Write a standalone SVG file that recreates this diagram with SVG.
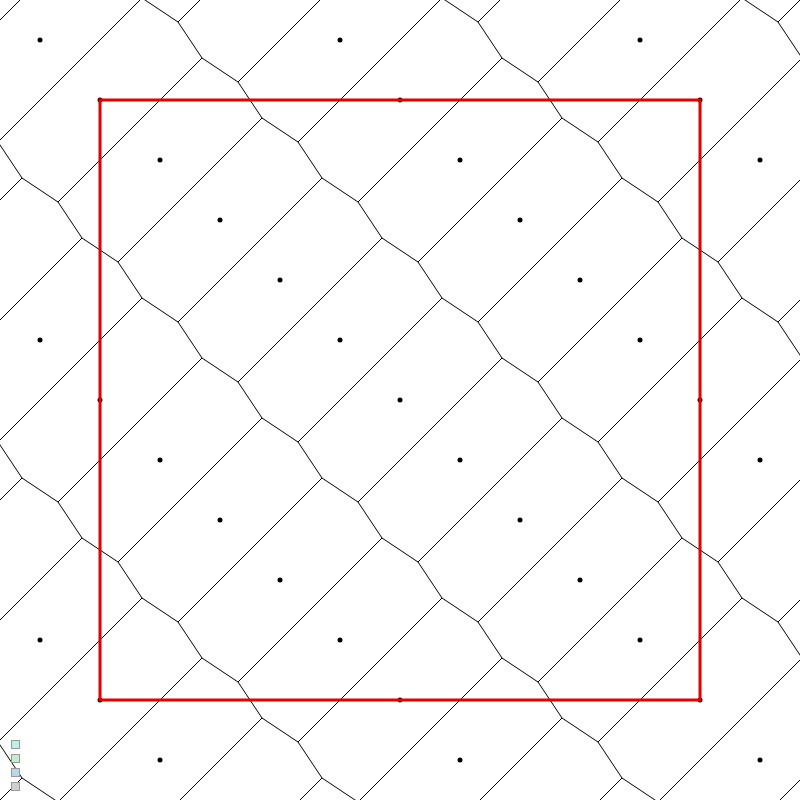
<svg xmlns="http://www.w3.org/2000/svg" width="800" height="800" viewBox="0 0 800 800">
<style>
.e{stroke:#000;stroke-width:1;fill:none}
.s{fill:#000}
.d{stroke:#e60000;stroke-width:3;fill:none}
.ic{stroke:#999;stroke-width:1}
</style>
<rect width="800" height="800" fill="#fff"/>
<g id="edges" class="e">
<line x1="-62" y1="82" x2="82" y2="-62"/>
<line x1="-2" y1="142" x2="142" y2="-2"/>
<line x1="58" y1="202" x2="202" y2="58"/>
<line x1="118" y1="262" x2="262" y2="118"/>
<line x1="178" y1="322" x2="322" y2="178"/>
<line x1="238" y1="382" x2="382" y2="238"/>
<line x1="298" y1="442" x2="442" y2="298"/>
<line x1="358" y1="502" x2="502" y2="358"/>
<line x1="418" y1="562" x2="562" y2="418"/>
<line x1="478" y1="622" x2="622" y2="478"/>
<line x1="538" y1="682" x2="682" y2="538"/>
<line x1="598" y1="742" x2="742" y2="598"/>
<line x1="658" y1="802" x2="802" y2="658"/>
<line x1="718" y1="862" x2="862" y2="718"/>
<line x1="178" y1="22" x2="322" y2="-122"/>
<line x1="238" y1="82" x2="382" y2="-62"/>
<line x1="298" y1="142" x2="442" y2="-2"/>
<line x1="358" y1="202" x2="502" y2="58"/>
<line x1="418" y1="262" x2="562" y2="118"/>
<line x1="478" y1="322" x2="622" y2="178"/>
<line x1="538" y1="382" x2="682" y2="238"/>
<line x1="598" y1="442" x2="742" y2="298"/>
<line x1="658" y1="502" x2="802" y2="358"/>
<line x1="718" y1="562" x2="862" y2="418"/>
<line x1="778" y1="622" x2="922" y2="478"/>
<line x1="-122" y1="322" x2="22" y2="178"/>
<line x1="-62" y1="382" x2="82" y2="238"/>
<line x1="-2" y1="442" x2="142" y2="298"/>
<line x1="58" y1="502" x2="202" y2="358"/>
<line x1="118" y1="562" x2="262" y2="418"/>
<line x1="178" y1="622" x2="322" y2="478"/>
<line x1="238" y1="682" x2="382" y2="538"/>
<line x1="298" y1="742" x2="442" y2="598"/>
<line x1="358" y1="802" x2="502" y2="658"/>
<line x1="418" y1="862" x2="562" y2="718"/>
<line x1="478" y1="922" x2="622" y2="778"/>
<line x1="478" y1="22" x2="622" y2="-122"/>
<line x1="538" y1="82" x2="682" y2="-62"/>
<line x1="598" y1="142" x2="742" y2="-2"/>
<line x1="658" y1="202" x2="802" y2="58"/>
<line x1="718" y1="262" x2="862" y2="118"/>
<line x1="778" y1="322" x2="922" y2="178"/>
<line x1="-122" y1="622" x2="22" y2="478"/>
<line x1="-62" y1="682" x2="82" y2="538"/>
<line x1="-2" y1="742" x2="142" y2="598"/>
<line x1="58" y1="802" x2="202" y2="658"/>
<line x1="118" y1="862" x2="262" y2="718"/>
<line x1="178" y1="922" x2="322" y2="778"/>
<line x1="778" y1="22" x2="922" y2="-122"/>
<line x1="-122" y1="922" x2="22" y2="778"/>
<polyline points="82,-62 118,-38 142,-2 178,22 202,58 238,82 262,118 298,142 322,178 358,202 382,238 418,262 442,298 478,322 502,358 538,382 562,418 598,442 622,478 658,502 682,538 718,562 742,598 778,622 802,658 838,682"/>
<polyline points="-62,82 -38,118 -2,142 22,178 58,202 82,238 118,262 142,298 178,322 202,358 238,382 262,418 298,442 322,478 358,502 382,538 418,562 442,598 478,622 502,658 538,682 562,718 598,742 622,778 658,802 682,838"/>
<polyline points="418,-38 442,-2 478,22 502,58 538,82 562,118 598,142 622,178 658,202 682,238 718,262 742,298 778,322 802,358 838,382"/>
<polyline points="-38,418 -2,442 22,478 58,502 82,538 118,562 142,598 178,622 202,658 238,682 262,718 298,742 322,778 358,802 382,838"/>
<polyline points="718,-38 742,-2 778,22 802,58 838,82"/>
<polyline points="-38,718 -2,742 22,778 58,802 82,838"/>
</g>
<g id="sites" class="s">
<circle cx="40" cy="40" r="2.5"/><circle cx="100" cy="100" r="2.5"/><circle cx="160" cy="160" r="2.5"/><circle cx="220" cy="220" r="2.5"/><circle cx="280" cy="280" r="2.5"/><circle cx="340" cy="340" r="2.5"/><circle cx="400" cy="400" r="2.5"/><circle cx="460" cy="460" r="2.5"/><circle cx="520" cy="520" r="2.5"/><circle cx="580" cy="580" r="2.5"/><circle cx="640" cy="640" r="2.5"/><circle cx="700" cy="700" r="2.5"/><circle cx="760" cy="760" r="2.5"/>
<circle cx="340" cy="40" r="2.5"/><circle cx="400" cy="100" r="2.5"/><circle cx="460" cy="160" r="2.5"/><circle cx="520" cy="220" r="2.5"/><circle cx="580" cy="280" r="2.5"/><circle cx="640" cy="340" r="2.5"/><circle cx="700" cy="400" r="2.5"/><circle cx="760" cy="460" r="2.5"/>
<circle cx="40" cy="340" r="2.5"/><circle cx="100" cy="400" r="2.5"/><circle cx="160" cy="460" r="2.5"/><circle cx="220" cy="520" r="2.5"/><circle cx="280" cy="580" r="2.5"/><circle cx="340" cy="640" r="2.5"/><circle cx="400" cy="700" r="2.5"/><circle cx="460" cy="760" r="2.5"/>
<circle cx="640" cy="40" r="2.5"/><circle cx="700" cy="100" r="2.5"/><circle cx="760" cy="160" r="2.5"/>
<circle cx="40" cy="640" r="2.5"/><circle cx="100" cy="700" r="2.5"/><circle cx="160" cy="760" r="2.5"/>
</g>
<g id="domain">
<rect class="d" x="100" y="100" width="600" height="600"/>
</g>
<g id="icons" class="ic">
<rect x="11.5" y="740.5" width="8" height="8" fill="#bfeee8"/>
<rect x="11.5" y="754.5" width="8" height="8" fill="#c4ecd0"/>
<rect x="11.5" y="768.5" width="8" height="8" fill="#b8d8f0"/>
<rect x="11.5" y="782.5" width="8" height="8" fill="#d0d0d0"/>
</g>
</svg>
